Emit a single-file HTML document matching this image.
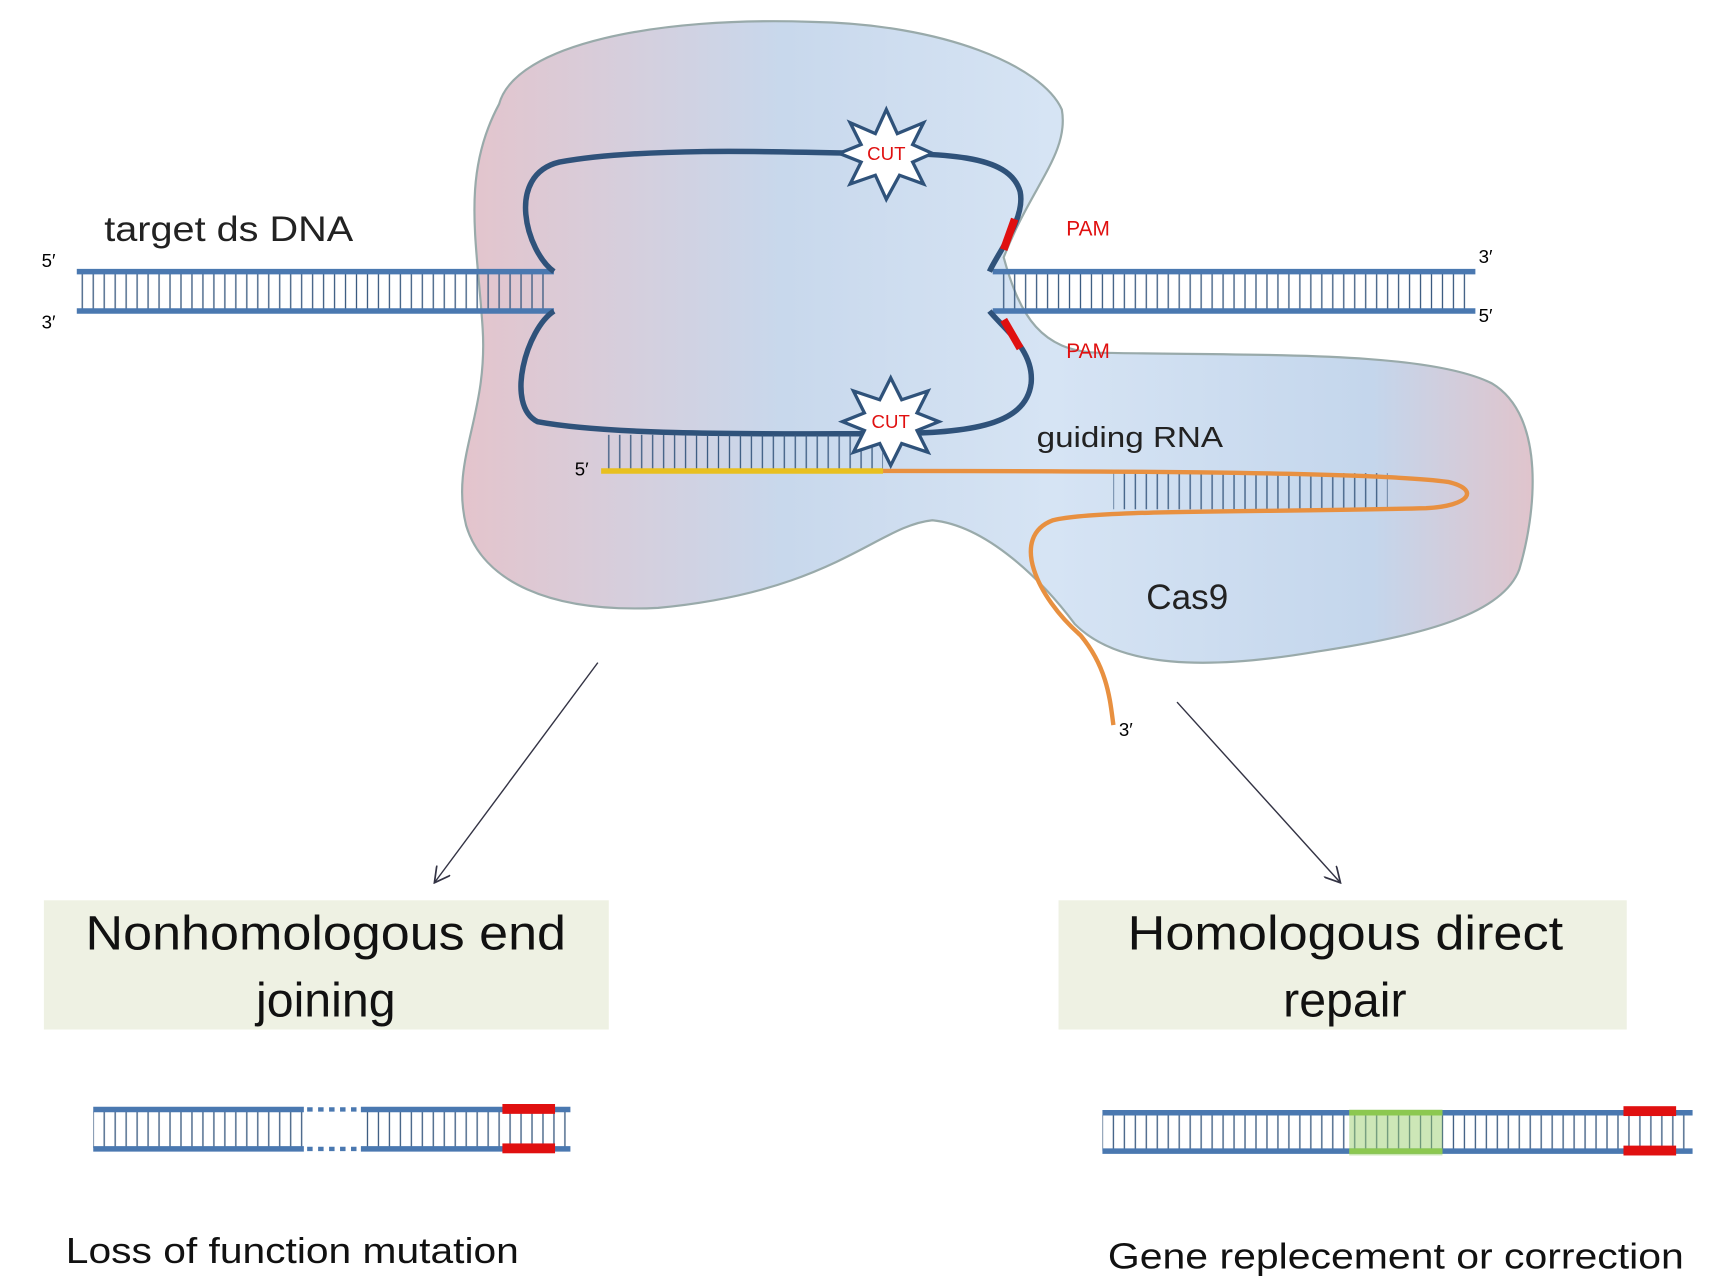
<!DOCTYPE html>
<html><head><style>html,body{margin:0;padding:0;background:#fff}svg{display:block}</style></head><body>
<svg width="1720" height="1288" viewBox="0 0 1568 1176" preserveAspectRatio="none" xmlns="http://www.w3.org/2000/svg" font-family="'Liberation Sans', sans-serif">
<defs>
<linearGradient id="g" x1="0" x2="1" y1="0" y2="0">
<stop offset="0" stop-color="#e4c4cc"/><stop offset="0.3" stop-color="#c8d8ec"/><stop offset="0.55" stop-color="#d6e4f4"/><stop offset="0.85" stop-color="#c4d6ec"/><stop offset="1" stop-color="#e0c4cc"/></linearGradient>
<pattern id="r" width="10" height="40" patternUnits="userSpaceOnUse"><line x1="5" y1="0" x2="5" y2="40" stroke="#3a5a80" stroke-width="1.2"/></pattern>
<marker id="a" markerWidth="12" markerHeight="12" refX="11" refY="6" orient="auto"><path d="M0,0 L11,6 L0,12" fill="none" stroke="#334" stroke-width="1.2"/></marker>
</defs>
<path d="M455,95 C470,40 600,15 740,20 C860,22 950,60 968,100 C975,140 940,170 915,235 C930,290 950,320 1000,322 C1150,325 1300,320 1360,350 C1410,380 1400,470 1385,520 C1370,560 1300,580 1200,595 C1100,612 1020,610 980,570 C950,530 900,480 850,475 C800,480 760,540 600,555 C500,560 440,530 425,480 C410,420 445,380 440,300 C435,220 420,160 455,95 Z" fill="url(#g)" stroke="#9aa" stroke-width="2"/>
<rect x="70" y="250" width="430" height="33" fill="url(#r)"/>
<line x1="70" y1="248" x2="505" y2="248" stroke="#4a78b0" stroke-width="5"/>
<line x1="70" y1="284" x2="505" y2="284" stroke="#4a78b0" stroke-width="5"/>
<rect x="910" y="250" width="430" height="33" fill="url(#r)"/>
<line x1="905" y1="248" x2="1345" y2="248" stroke="#4a78b0" stroke-width="5"/>
<line x1="905" y1="284" x2="1345" y2="284" stroke="#4a78b0" stroke-width="5"/>
<path d="M505,248 C480,230 460,160 510,148 C580,135 700,138 780,140 C860,140 920,140 930,175 C935,200 910,230 902,248" fill="none" stroke="#2f527a" stroke-width="5"/>
<path d="M505,284 C480,300 460,370 490,385 C560,398 700,396 800,396 C880,396 935,390 940,350 C943,320 915,300 902,284" fill="none" stroke="#2f527a" stroke-width="5"/>
<line x1="925" y1="200" x2="915" y2="228" stroke="#e01010" stroke-width="7"/>
<line x1="915" y1="292" x2="930" y2="318" stroke="#e01010" stroke-width="7"/>
<rect x="550" y="397" width="255" height="32" fill="url(#r)"/>
<rect x="1015" y="432" width="250" height="33" fill="url(#r)"/>
<line x1="548" y1="430" x2="805" y2="430" stroke="#e8c020" stroke-width="5"/>
<path d="M805,430 C950,430 1250,430 1320,440 C1350,447 1340,462 1300,464 C1150,468 1000,465 960,475 C920,490 945,545 985,580 C1010,610 1012,640 1015,662" fill="none" stroke="#e89040" stroke-width="4"/>
<polygon points="808,100 818,122 842,112 832,132 850,140 832,148 842,168 820,160 808,182 798,160 775,168 785,148 765,140 785,132 775,112 798,122" fill="#fff" stroke="#2f527a" stroke-width="3"/>
<text x="808" y="146" fill="#e01010" font-size="17" text-anchor="middle">CUT</text>
<polygon points="812,345 822,365 846,357 836,377 856,385 836,393 846,413 822,405 812,425 802,405 778,413 788,393 768,385 788,377 778,357 802,365" fill="#fff" stroke="#2f527a" stroke-width="3"/>
<text x="812" y="391" fill="#e01010" font-size="17" text-anchor="middle">CUT</text>
<text x="95" y="220" font-size="32" fill="#222" textLength="227" lengthAdjust="spacingAndGlyphs">target ds DNA</text>
<text x="38" y="244" font-size="17">5′</text><text x="38" y="300" font-size="17">3′</text>
<text x="1348" y="240" font-size="17">3′</text><text x="1348" y="294" font-size="17">5′</text>
<text x="972" y="215" font-size="19" fill="#e01010">PAM</text>
<text x="972" y="327" font-size="19" fill="#e01010">PAM</text>
<text x="945" y="408" font-size="26" fill="#222" textLength="170" lengthAdjust="spacingAndGlyphs">guiding RNA</text>
<text x="524" y="434" font-size="17">5′</text>
<text x="1020" y="672" font-size="17">3′</text>
<text x="1045" y="556" font-size="32" fill="#222">Cas9</text>
<line x1="545" y1="605" x2="396" y2="806" stroke="#334" stroke-width="1.3" marker-end="url(#a)"/>
<line x1="1073" y1="641" x2="1222" y2="806" stroke="#334" stroke-width="1.3" marker-end="url(#a)"/>
<rect x="40" y="822" width="515" height="118" fill="#eef1e3"/>
<rect x="965" y="822" width="518" height="118" fill="#eef1e3"/>
<text x="78" y="867" font-size="44" fill="#111" textLength="438" lengthAdjust="spacingAndGlyphs">Nonhomologous end</text>
<text x="297" y="928" font-size="44" text-anchor="middle" fill="#111">joining</text>
<text x="1028" y="867" font-size="44" fill="#111" textLength="397" lengthAdjust="spacingAndGlyphs">Homologous direct</text>
<text x="1226" y="928" font-size="44" text-anchor="middle" fill="#111">repair</text>
<rect x="85" y="1015" width="435" height="33" fill="url(#r)"/>
<rect x="277" y="1012" width="52" height="40" fill="#fff"/>
<line x1="85" y1="1013" x2="277" y2="1013" stroke="#4a78b0" stroke-width="5"/>
<line x1="329" y1="1013" x2="520" y2="1013" stroke="#4a78b0" stroke-width="5"/>
<line x1="85" y1="1049" x2="277" y2="1049" stroke="#4a78b0" stroke-width="5"/>
<line x1="329" y1="1049" x2="520" y2="1049" stroke="#4a78b0" stroke-width="5"/>
<line x1="280" y1="1013" x2="328" y2="1013" stroke="#4a78b0" stroke-width="4" stroke-dasharray="5,5"/>
<line x1="280" y1="1049" x2="328" y2="1049" stroke="#4a78b0" stroke-width="4" stroke-dasharray="5,5"/>
<rect x="458" y="1008" width="48" height="9" fill="#e01010"/><rect x="458" y="1044" width="48" height="9" fill="#e01010"/>
<rect x="1005" y="1018" width="538" height="33" fill="url(#r)"/>
<line x1="1005" y1="1016" x2="1543" y2="1016" stroke="#4a78b0" stroke-width="5"/>
<line x1="1005" y1="1051" x2="1543" y2="1051" stroke="#4a78b0" stroke-width="5"/>
<rect x="1230" y="1013" width="85" height="42" fill="#9cd070" opacity="0.5"/>
<line x1="1230" y1="1016" x2="1315" y2="1016" stroke="#8cc850" stroke-width="5"/>
<line x1="1230" y1="1051" x2="1315" y2="1051" stroke="#8cc850" stroke-width="5"/>
<rect x="1480" y="1010" width="48" height="9" fill="#e01010"/><rect x="1480" y="1046" width="48" height="9" fill="#e01010"/>
<text x="60" y="1153" font-size="33" fill="#111" textLength="413" lengthAdjust="spacingAndGlyphs">Loss of function mutation</text>
<text x="1010" y="1158" font-size="33" fill="#111" textLength="525" lengthAdjust="spacingAndGlyphs">Gene replecement or correction</text>
</svg>
</body></html>
